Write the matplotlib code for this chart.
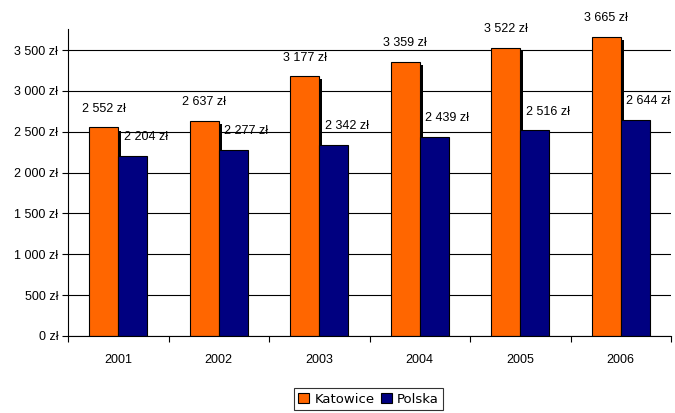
import matplotlib
matplotlib.use('Agg')
import matplotlib.pyplot as plt
import matplotlib.patheffects as pe
from matplotlib.patches import Patch
import numpy as np

years = ['2001', '2002', '2003', '2004', '2005', '2006']
katowice = [2552, 2637, 3177, 3359, 3522, 3665]
polska = [2204, 2277, 2342, 2439, 2516, 2644]
yticks = [0, 500, 1000, 1500, 2000, 2500, 3000, 3500]

ORANGE = '#ff6600'
NAVY = '#000080'


def zl(v):
    # polish thousands separator: "3 500 zł"
    s = '{:,}'.format(int(v)).replace(',', ' ')
    return s + ' zł'


plt.rcParams['font.family'] = ['Liberation Sans', 'DejaVu Sans']
plt.rcParams['font.size'] = 9

fig = plt.figure(figsize=(6.75, 4.13), dpi=100)
ax = fig.add_axes([68 / 675, 77 / 413, 603 / 675, 307 / 413])

x = np.arange(len(years))
w = 0.288

bk = ax.bar(x - w / 2, katowice, w, color=ORANGE, edgecolor='black',
            linewidth=0.8, zorder=3)
for b in bk:
    b.set_path_effects([pe.SimplePatchShadow(offset=(2.2, -2.2),
                                             shadow_rgbFace='black', alpha=1.0),
                        pe.Normal()])
bp = ax.bar(x + w / 2, polska, w, color=NAVY, edgecolor='black',
            linewidth=0.8, zorder=4)

for i in range(len(years)):
    ax.annotate(zl(katowice[i]), (x[i] - w / 2, katowice[i]),
                xytext=(0, 13.5), textcoords='offset points',
                ha='center', va='center', fontsize=9, zorder=6)
    ax.annotate(zl(polska[i]), (x[i] + w / 2, polska[i]),
                xytext=(9.5, 13.5), textcoords='offset points',
                ha='center', va='center', fontsize=9, zorder=6,
                annotation_clip=False)

ax.set_xlim(-0.5, len(years) - 0.5)
ax.set_ylim(0, 3757)
ax.set_yticks(yticks)
ax.set_yticklabels([zl(v) for v in yticks])
ax.yaxis.grid(True, color='black', linewidth=0.8, zorder=0)
ax.set_axisbelow(True)

ax.set_xticks(x)
ax.set_xticklabels(years)
ax.set_xticks(np.arange(len(years) + 1) - 0.5, minor=True)
ax.tick_params(axis='x', which='major', length=0, pad=13)
ax.tick_params(axis='x', which='minor', length=4, width=0.8, direction='out')
ax.tick_params(axis='y', length=4, width=0.8, direction='out', pad=3)

for s in ['top', 'right']:
    ax.spines[s].set_visible(False)
for s in ['left', 'bottom']:
    ax.spines[s].set_linewidth(0.8)
    ax.spines[s].set_zorder(5)

handles = [Patch(facecolor=ORANGE, edgecolor='black', linewidth=0.8, label='Katowice'),
           Patch(facecolor=NAVY, edgecolor='black', linewidth=0.8, label='Polska')]
leg = fig.legend(handles=handles, loc='upper center', bbox_to_anchor=(0.546, 0.06),
                 ncol=2, frameon=True, fancybox=False, shadow=False,
                 prop={'family': 'DejaVu Sans', 'size': 9.5},
                 handlelength=0.8, handleheight=0.8, handletextpad=0.4,
                 columnspacing=0.5, borderpad=0.35, borderaxespad=0)
leg.get_frame().set_edgecolor('black')
leg.get_frame().set_linewidth(0.8)

fig.savefig('out.png', dpi=100)
